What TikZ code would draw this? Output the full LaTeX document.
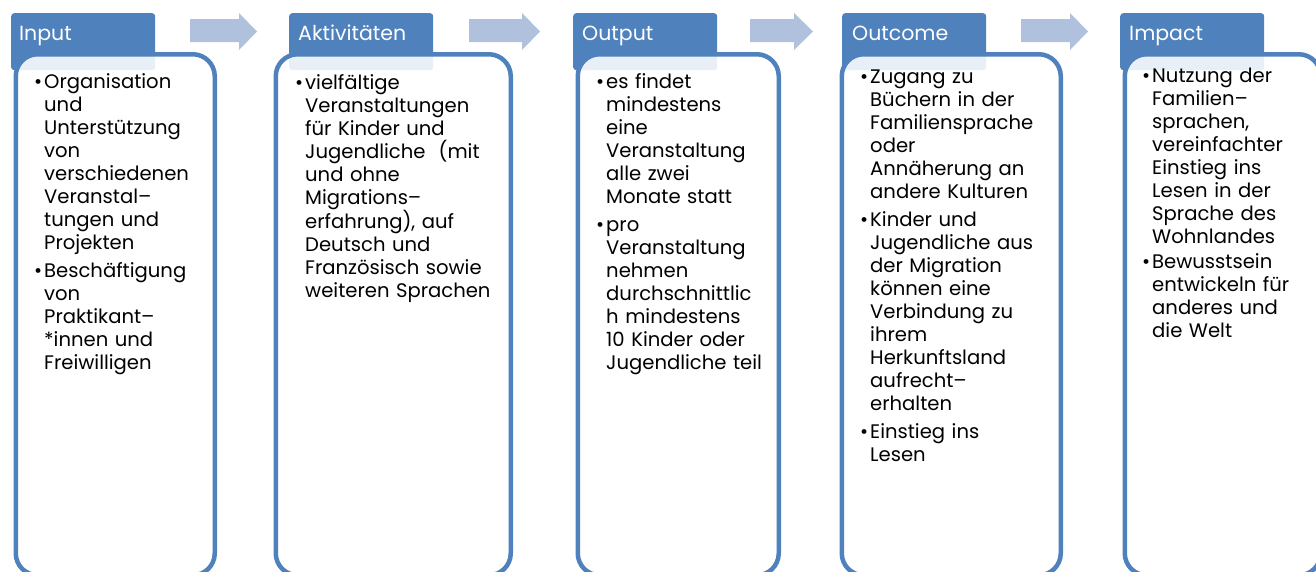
\documentclass[tikz,border=0pt]{standalone}
\usepackage{fontspec}
\setmainfont{Poppins}
\usepackage{tikz}

\definecolor{hdblue}{HTML}{4F81BD}
\definecolor{arblue}{HTML}{B0C1DE}

\newcommand{\itm}[1]{\par\hangindent=10pt\hangafter=1\noindent\hbox to 10pt{\strut\textbullet\hfil}#1\par}
\newcommand{\itmgap}{\vspace{5pt}}

\tikzset{
  header/.style={fill=hdblue, rounded corners=3pt, minimum width=144pt, minimum height=57pt, inner sep=0pt, anchor=north west},
  panel/.style={draw=hdblue, line width=4.5pt, fill=white, fill opacity=0.88, rounded corners=22pt, minimum height=521pt, inner sep=0pt, anchor=north west},
  hdtxt/.style={text=white, font=\fontsize{20.5}{23}\selectfont, inner sep=0pt, anchor=base west},
  txt/.style={font=\fontsize{19.6}{23}\selectfont, text width=200pt, align=left, inner sep=0pt, anchor=north west},
  arrowfill/.style={fill=arblue}
}

\begin{document}
\begin{tikzpicture}
\begin{scope}[x=1pt, y=-1pt]
\useasboundingbox (0,0) rectangle (1316,571);

\node[header] (hInput) at (11,13) {};
\node[header] (hAkt) at (289,13) {};
\node[header] (hOutput) at (573,13) {};
\node[header] (hOutcome) at (842,13) {};
\node[header] (hImpact) at (1120,13) {};

\fill[arrowfill] (190,19) -- (239,19) -- (239,13) -- (257,31.5) -- (239,50) -- (239,42) -- (190,42) -- cycle;
\fill[arrowfill] (469,19) -- (522,19) -- (522,13) -- (540,31.5) -- (522,50) -- (522,42) -- (469,42) -- cycle;
\fill[arrowfill] (750,19) -- (794,19) -- (794,13) -- (813,31.5) -- (794,50) -- (794,42) -- (750,42) -- cycle;
\fill[arrowfill] (1021,19) -- (1070,19) -- (1070,13) -- (1088,31.5) -- (1070,50) -- (1070,42) -- (1021,42) -- cycle;

\node[panel, minimum width=199pt] (pInput) at (13.5,52) {};
\node[panel, minimum width=235pt] (pAkt) at (273.5,52) {};
\node[panel, minimum width=201pt] (pOutput) at (575.5,52) {};
\node[panel, minimum width=219pt] (pOutcome) at (839.5,52) {};
\node[panel, minimum width=196pt] (pImpact) at (1122.5,52) {};

\node[hdtxt] (lInput) at (19,40) {Input};
\node[hdtxt] (lAkt) at (298,40) {Aktivitäten};
\node[hdtxt] (lOutput) at (582,40) {Output};
\node[hdtxt] (lOutcome) at (852,40) {Outcome};
\node[hdtxt] (lImpact) at (1129,40) {Impact};

\node[txt] (tInput) at (34,65) {%
\itm{Organisation\newline und\newline Unterstützung\newline von\newline verschiedenen\newline Veranstal–\newline tungen und\newline Projekten}\itmgap
\itm{Beschäftigung\newline von\newline Praktikant–\newline *innen und\newline Freiwilligen}};

\node[txt, text width=220pt] (tAkt) at (295,66) {%
\itm{vielfältige\newline Veranstaltungen\newline für Kinder und\newline Jugendliche\ \ (mit\newline und ohne\newline Migrations–\newline erfahrung), auf\newline Deutsch und\newline Französisch sowie\newline weiteren Sprachen}};

\node[txt] (tOutput) at (596,65) {%
\itm{es findet\newline mindestens\newline eine\newline Veranstaltung\newline alle zwei\newline Monate statt}\itmgap
\itm{pro\newline Veranstaltung\newline nehmen\newline durchschnittlic\newline h mindestens\newline 10 Kinder oder\newline Jugendliche teil}};

\node[txt] (tOutcome) at (860,60) {%
\itm{Zugang zu\newline Büchern in der\newline Familiensprache\newline oder\newline Annäherung an\newline andere Kulturen}\itmgap
\itm{Kinder und\newline Jugendliche aus\newline der Migration\newline können eine\newline Verbindung zu\newline ihrem\newline Herkunftsland\newline aufrecht–\newline erhalten}\itmgap
\itm{Einstieg ins\newline Lesen}};

\node[txt] (tImpact) at (1142,59) {%
\itm{Nutzung der\newline Familien–\newline sprachen,\newline vereinfachter\newline Einstieg ins\newline Lesen in der\newline Sprache des\newline Wohnlandes}\vspace{2pt}
\itm{Bewusstsein\newline entwickeln für\newline anderes und\newline die Welt}};

\end{scope}
\end{tikzpicture}
\end{document}
